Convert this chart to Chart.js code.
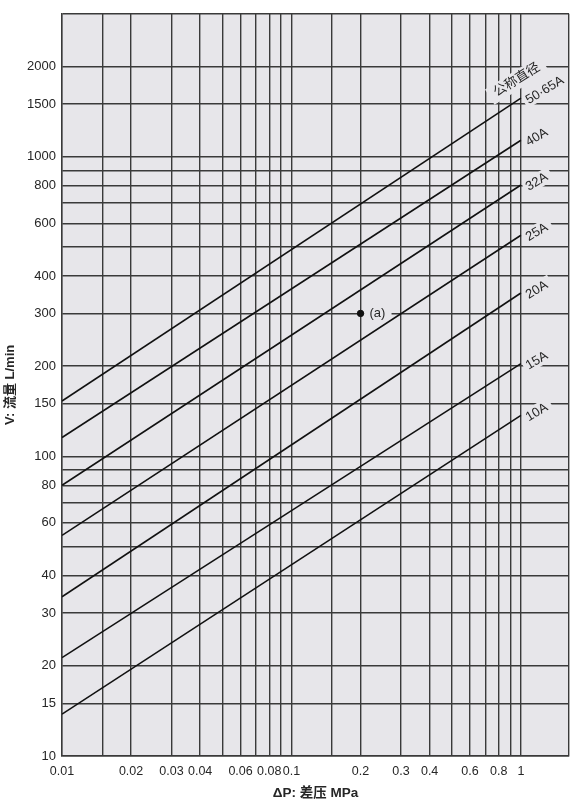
<!DOCTYPE html>
<html><head><meta charset="utf-8">
<script src="https://cdn.jsdelivr.net/npm/chart.js@4/dist/chart.umd.min.js"></script>
<style>html,body{margin:0;padding:0;background:#fff}#wrap{width:574px;height:800px;position:relative}</style>
</head><body><div id="wrap"><canvas id="c"></canvas></div>
<script>
// ---- data ----
const pressureMPa = [0.01, 1];
const sizeLabels = ['50·65A', '40A', '32A', '25A', '20A', '15A', '10A'];
const flowAtMin = [153, 115.6, 80.1, 54.5, 34.0, 21.3, 13.8];   // L/min at 0.01 MPa
const flowAtMax = [1570, 1135, 805, 547, 351, 204, 137];        // L/min at 1 MPa
const xGridValues = [0.01, 0.015, 0.02, 0.03, 0.04, 0.05, 0.06, 0.07, 0.08, 0.09, 0.1, 0.15, 0.2, 0.3, 0.4, 0.5, 0.6, 0.7, 0.8, 0.9, 1];
const xTickLabels = [0.01, 0.02, 0.03, 0.04, 0.06, 0.08, 0.1, 0.2, 0.3, 0.4, 0.6, 0.8, 1];
const yGridValues = [10, 15, 20, 30, 40, 50, 60, 70, 80, 90, 100, 150, 200, 300, 400, 500, 600, 700, 800, 900, 1000, 1500, 2000];
const yTickLabels = [10, 15, 20, 30, 40, 60, 80, 100, 150, 200, 300, 400, 600, 800, 1000, 1500, 2000];
const xRange = [0.01, 1.62];
const yRange = [10, 3000];
const markPoint = { x: 0.2, y: 300, label: '(a)' };
const headerLabel = '公称直径';
const xTitle = 'ΔP: 差压 MPa';
const yTitle = 'V: 流量 L/min';

const FAMILY = "'Liberation Sans', Arial, 'Noto Sans CJK SC', sans-serif";
const GRID = '#3a3a3a';
const TEXT = '#262626';
const PLOT_BG = '#e7e6ea';
const ANG = -31 * Math.PI / 180;

const datasets = sizeLabels.map((name, i) => ({
  label: name,
  data: pressureMPa.map((p, j) => ({ x: p, y: j === 0 ? flowAtMin[i] : flowAtMax[i] })),
  borderColor: '#111',
  borderWidth: 1.6,
  pointRadius: 0,
  fill: false,
  tension: 0
}));
datasets.push({
  label: markPoint.label,
  type: 'scatter',
  data: [{ x: markPoint.x, y: markPoint.y }],
  pointRadius: 3.2,
  pointBackgroundColor: '#111',
  pointBorderColor: '#111',
  showLine: false
});

function rotRect(ctx, x, y, ang, x0, y0, w, h) {
  ctx.save();
  ctx.translate(x, y);
  ctx.rotate(ang);
  ctx.fillRect(x0, y0, w, h);
  ctx.restore();
}

const decor = {
  id: 'decor',
  beforeDraw(chart) {
    const { ctx, chartArea: a } = chart;
    ctx.save();
    ctx.fillStyle = PLOT_BG;
    ctx.fillRect(a.left, a.top, a.right - a.left, a.bottom - a.top);
    ctx.restore();
  },
  beforeDatasetsDraw(chart) {
    const { ctx, chartArea: a } = chart;
    const xs = chart.scales.x, ys = chart.scales.y;
    const ex = xs.getPixelForValue(pressureMPa[1]);
    ctx.save();
    ctx.fillStyle = PLOT_BG;
    // backgrounds behind size labels (right margin only)
    ctx.save();
    ctx.beginPath();
    ctx.rect(ex + 1.5, a.top + 1, a.right - ex - 2.5, a.bottom - a.top - 2);
    ctx.clip();
    ctx.font = '13px ' + FAMILY;
    sizeLabels.forEach((t, i) => {
      const ey = ys.getPixelForValue(flowAtMax[i]);
      const w = ctx.measureText(t).width;
      rotRect(ctx, ex + 6, ey + 3, ANG, -3, -8, w + 8, 15);
    });
    ctx.restore();
    // header background
    const hy = ys.getPixelForValue(flowAtMax[0]);
    ctx.font = '13px ' + FAMILY;
    const hw = ctx.measureText(headerLabel).width;
    rotRect(ctx, ex - 4, hy - 18, -32 * Math.PI / 180, -hw / 2 - 6, -9, hw + 12, 18);
    // (a) background
    const px = xs.getPixelForValue(markPoint.x), py = ys.getPixelForValue(markPoint.y);
    ctx.fillRect(px + 3, py - 6, 28, 12);
    ctx.restore();
  },
  afterDatasetsDraw(chart) {
    const { ctx } = chart;
    const xs = chart.scales.x, ys = chart.scales.y;
    const ex = xs.getPixelForValue(pressureMPa[1]);
    ctx.save();
    ctx.fillStyle = TEXT;
    ctx.textBaseline = 'middle';
    ctx.textAlign = 'left';
    ctx.font = '13px ' + FAMILY;
    sizeLabels.forEach((t, i) => {
      const ey = ys.getPixelForValue(flowAtMax[i]);
      ctx.save();
      ctx.translate(ex + 6, ey + 3);
      ctx.rotate(ANG);
      ctx.fillText(t, 0, 0);
      ctx.restore();
    });
    const hy = ys.getPixelForValue(flowAtMax[0]);
    ctx.font = '13px ' + FAMILY;
    ctx.textAlign = 'center';
    ctx.save();
    ctx.translate(ex - 4, hy - 18);
    ctx.rotate(-32 * Math.PI / 180);
    ctx.fillText(headerLabel, 0, 0);
    ctx.restore();
    const px = xs.getPixelForValue(markPoint.x), py = ys.getPixelForValue(markPoint.y);
    ctx.font = '13px ' + FAMILY;
    ctx.textAlign = 'left';
    ctx.fillText(markPoint.label, px + 9, py);
    ctx.restore();
  }
};

new Chart(document.getElementById('c'), {
  type: 'line',
  data: { datasets },
  plugins: [decor],
  options: {
    responsive: true,
    maintainAspectRatio: false,
    animation: false,
    layout: { padding: { top: 9, right: 0, left: 0, bottom: 0 } },
    plugins: { legend: { display: false }, tooltip: { enabled: false } },
    scales: {
      x: {
        type: 'logarithmic',
        min: xRange[0], max: xRange[1],
        afterBuildTicks: s => { s.ticks = xGridValues.concat([xRange[1]]).map(v => ({ value: v })); },
        afterFit: s => { s.height = 44; s.paddingRight = 5; s.paddingLeft = 0; },
        ticks: {
          autoSkip: false, maxRotation: 0, minRotation: 0, padding: 8, color: TEXT,
          font: { size: 12.5, family: FAMILY },
          callback: v => xTickLabels.includes(v) ? String(v) : ''
        },
        grid: { color: GRID, lineWidth: 1.4, drawTicks: false },
        border: { color: GRID, width: 1.4 },
        title: { display: true, text: xTitle, color: TEXT, font: { size: 13.5, weight: 'bold', family: FAMILY, lineHeight: 1.2 }, padding: { top: 0, bottom: -1 } }
      },
      y: {
        type: 'logarithmic',
        min: yRange[0], max: yRange[1],
        afterBuildTicks: s => { s.ticks = yGridValues.concat([yRange[1]]).map(v => ({ value: v })); },
        afterFit: s => { s.width = 62; },
        ticks: {
          autoSkip: false, padding: 6, color: TEXT,
          font: { size: 13, family: FAMILY },
          callback: v => yTickLabels.includes(v) ? String(v) : ''
        },
        grid: { color: GRID, lineWidth: 1.4, drawTicks: false },
        border: { color: GRID, width: 1.4 },
        title: { display: true, text: yTitle, color: TEXT, font: { size: 13, weight: 'bold', family: FAMILY, lineHeight: 1.2 }, padding: { top: 3, bottom: 0 } }
      }
    }
  }
});
</script>
</body></html>
